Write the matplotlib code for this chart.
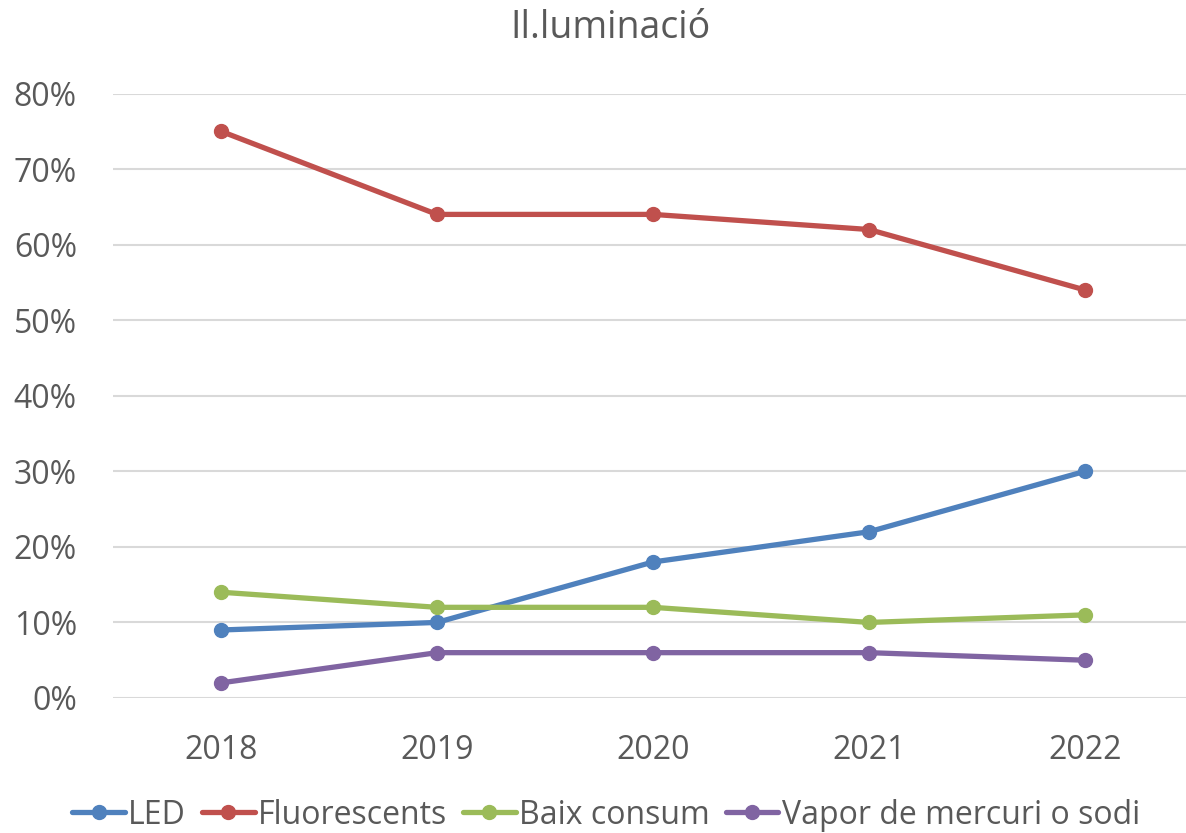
import matplotlib
matplotlib.use("Agg")
import matplotlib.pyplot as plt
from matplotlib.ticker import FuncFormatter, MultipleLocator

years = ["2018", "2019", "2020", "2021", "2022"]
led = [9, 10, 18, 22, 30]
fluorescents = [75, 64, 64, 62, 54]
baix_consum = [14, 12, 12, 10, 11]
vapor = [2, 6, 6, 6, 5]
series_names = ["LED", "Fluorescents", "Baix consum", "Vapor de mercuri o sodi"]
series_colors = ["#4F81BD", "#C0504D", "#9BBB59", "#8064A2"]
title = "Il.luminació"

plt.rcParams['font.family'] = ['Open Sans', 'DejaVu Sans']
txt = "#595959"

W, H = 1186, 833
fig = plt.figure(figsize=(W / 100, H / 100), dpi=100)
ax = fig.add_axes([113 / W, (H - 698) / H, 1080 / W, (698 - 93.5) / H])

x = list(range(len(years)))
for vals, name, col in zip([led, fluorescents, baix_consum, vapor], series_names, series_colors):
    ax.plot(x, vals, color=col, lw=3.8, marker='o', markersize=10, label=name,
            solid_capstyle='round', clip_on=False, zorder=3)

ax.set_xlim(-0.5, 4.5)
ax.set_ylim(0, 80)
ax.yaxis.set_major_locator(MultipleLocator(10))
ax.yaxis.set_major_formatter(FuncFormatter(lambda v, p: f"{int(v)}%"))
ax.set_xticks(x)
ax.set_xticklabels(years)
ax.grid(axis='y', color='#D9D9D9', lw=1.5)
ax.set_axisbelow(True)
for s in ax.spines.values():
    s.set_visible(False)
ax.tick_params(length=0, labelsize=23, labelcolor=txt)
ax.tick_params(axis='x', pad=26)
ax.tick_params(axis='y', pad=26)

fig.text(610 / W, 1 - 28 / H, title, ha='center', va='center', fontsize=27, color=txt)

leg = fig.legend(loc='center', bbox_to_anchor=(606 / W, 1 - 815 / H), ncol=4, frameon=False,
                 fontsize=23, handlelength=1.65, handletextpad=0.1, columnspacing=0.5,
                 labelcolor=txt)

fig.savefig("out.png", dpi=100)
